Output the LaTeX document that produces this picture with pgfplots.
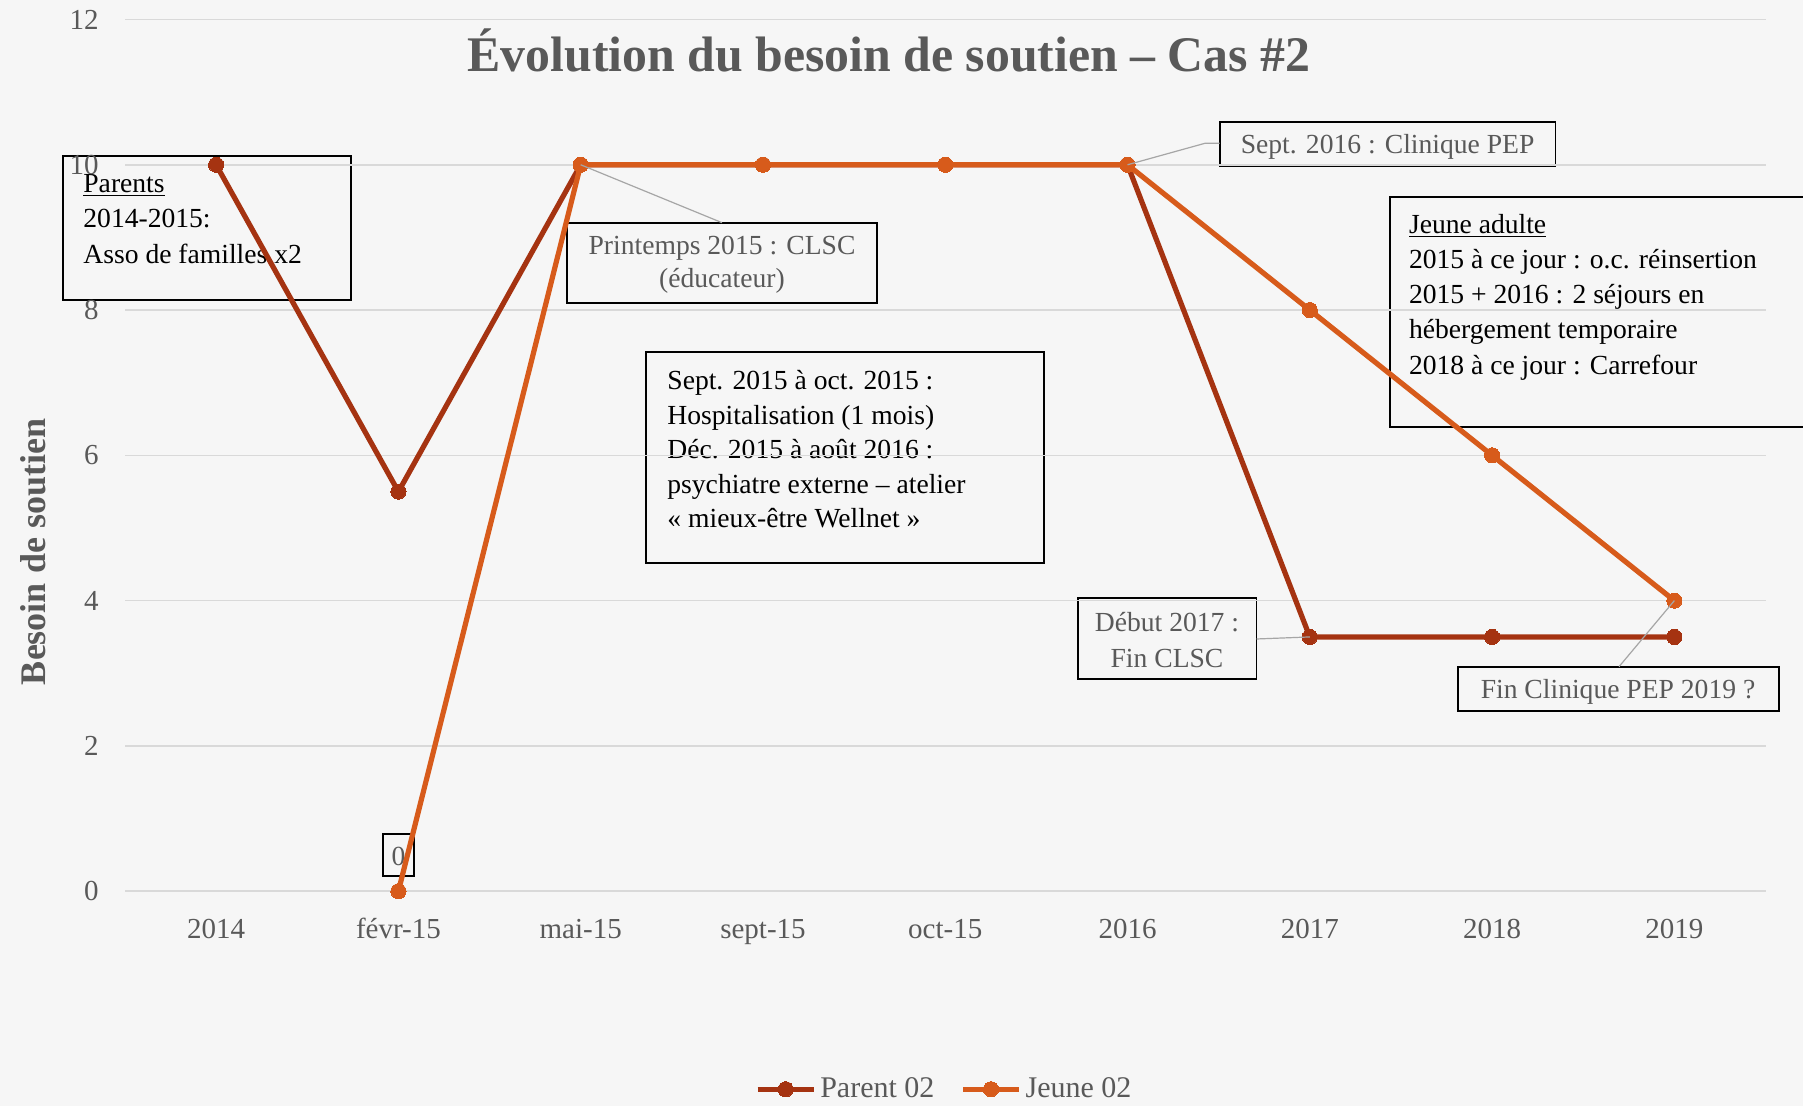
\documentclass[border=0pt]{standalone}
\usepackage{pgfplots}
\pgfplotsset{compat=1.18}
\usepackage{fontspec}
\setmainfont{Liberation Serif}
\definecolor{parentc}{HTML}{A53311}
\definecolor{jeunec}{HTML}{D75B1B}
\definecolor{txtgray}{HTML}{595959}
\definecolor{gridc}{HTML}{D9D9D9}
\definecolor{bgc}{HTML}{F6F6F6}
\definecolor{leadc}{HTML}{A6A6A6}
\newcommand{\annfont}{\fontsize{13.8}{17.4}\selectfont}
\begin{document}
\begin{tikzpicture}
\fill[bgc] (0,0) rectangle (901.5pt,553pt);
\begin{scope}[x=0.5pt,y=-0.5pt,shift={(0pt,553pt)}]
  % title
  \node[anchor=base, inner sep=0, text=txtgray, font=\bfseries\fontsize{24.9}{29}\selectfont] at (889,71.7) {Évolution du besoin de soutien – Cas \#2};
  % y label
  \node[rotate=90, anchor=center, inner sep=0, text=txtgray, font=\bfseries\fontsize{18}{21}\selectfont] at (33.5,552) {Besoin de soutien};
  % Parents box
  \draw[black, line width=0.9pt] (63,156) rectangle (351,300);
  \node[anchor=base west, inner sep=0, font=\annfont] at (83,192.7) {\underline{Parents}};
  \node[anchor=base west, inner sep=0, font=\annfont] at (83,227.7) {2014-2015:};
  \node[anchor=base west, inner sep=0, font=\annfont] at (83,263.3) {Asso de familles x2};
  % Printemps box
  \draw[black, line width=0.9pt] (567,222.7) rectangle (876.6,302.7);
  \node[anchor=base, inner sep=0, text=txtgray, font=\annfont] at (722,255) {Printemps 2015 : CLSC};
  \node[anchor=base, inner sep=0, text=txtgray, font=\annfont] at (722,288) {(éducateur)};
  % Sept 2015 box
  \draw[black, line width=0.9pt] (645.7,352.3) rectangle (1044,563);
  \node[anchor=base west, inner sep=0, font=\annfont] at (667,390) {Sept. 2015 à oct. 2015 :};
  \node[anchor=base west, inner sep=0, font=\annfont] at (667,424.5) {Hospitalisation (1 mois)};
  \node[anchor=base west, inner sep=0, font=\annfont] at (667,459) {Déc. 2015 à août 2016 :};
  \node[anchor=base west, inner sep=0, font=\annfont] at (667,493.5) {psychiatre externe – atelier};
  \node[anchor=base west, inner sep=0, font=\annfont] at (667,528) {« mieux-être Wellnet »};
  % Sept 2016 box
  \draw[black, line width=0.9pt] (1219.7,121.7) rectangle (1555.5,166);
  \node[anchor=base, inner sep=0, text=txtgray, font=\annfont] at (1387.6,153.3) {Sept. 2016 : Clinique PEP};
  % Jeune adulte box
  \draw[black, line width=0.9pt] (1389.6,197.3) rectangle (1830,427.3);
  \node[anchor=base west, inner sep=0, font=\annfont] at (1408.6,233.3) {\underline{Jeune adulte}};
  \node[anchor=base west, inner sep=0, font=\annfont] at (1408.6,268.5) {2015 à ce jour : o.c. réinsertion};
  \node[anchor=base west, inner sep=0, font=\annfont] at (1408.6,303.7) {2015 + 2016 : 2 séjours en};
  \node[anchor=base west, inner sep=0, font=\annfont] at (1408.6,338.9) {hébergement temporaire};
  \node[anchor=base west, inner sep=0, font=\annfont] at (1408.6,374.1) {2018 à ce jour : Carrefour};
  % Debut 2017 box
  \draw[black, line width=0.9pt] (1078,598.3) rectangle (1256.5,679);
  \node[anchor=base, inner sep=0, text=txtgray, font=\annfont] at (1167,631.7) {Début 2017 :};
  \node[anchor=base, inner sep=0, text=txtgray, font=\annfont] at (1167,667.3) {Fin CLSC};
  % Fin clinique box
  \draw[black, line width=0.9pt] (1458,666.7) rectangle (1778.6,710.7);
  \node[anchor=base, inner sep=0, text=txtgray, font=\annfont] at (1618,698.3) {Fin Clinique PEP 2019 ?};
  % data label 0
  \draw[black, line width=0.9pt] (383,834) rectangle (414,876);
  \node[anchor=base, inner sep=0, text=txtgray, font=\annfont] at (398.5,866) {0};
\end{scope}
\begin{axis}[
  at={(62.5pt,107.4pt)}, anchor=south west, scale only axis,
  width=820.25pt, height=435.85pt,
  xmin=-0.5, xmax=8.5, ymin=0, ymax=12,
  xtick={0,...,8},
  xticklabels={2014,févr-15,mai-15,sept-15,oct-15,2016,2017,2018,2019},
  ytick={0,2,...,12},
  ymajorgrids, grid style={gridc, line width=0.75pt},
  axis line style={draw=none}, major tick length=0pt,
  tick label style={font=\fontsize{14.5}{17}\selectfont, text=txtgray},
  /pgf/number format/assume math mode=true,
  xticklabel style={anchor=base, inner sep=0pt, yshift=-23.5pt},
  yticklabel style={anchor=east, inner sep=0pt, xshift=-13pt},
  legend style={at={(0.5,-0.2272)}, anchor=center, draw=none, fill=none,
    font=\fontsize{15}{18}\selectfont, text=txtgray, legend columns=2,
    /tikz/every even column/.append style={column sep=11pt}},
  legend image code/.code={\draw[mark repeat=2,mark phase=2,#1] plot coordinates {(0pt,0pt) (14pt,0pt) (28pt,0pt)};},
  clip=false,
]
\addplot[parentc, line width=2.6pt, mark=*, mark size=3.8pt, mark options={solid, fill=parentc, draw=parentc, line width=0pt}]
  coordinates {(0,10) (1,5.5) (2,10) (3,10) (4,10) (5,10) (6,3.5) (7,3.5) (8,3.5)};
\addlegendentry{Parent 02}
\addplot[jeunec, line width=2.6pt, mark=*, mark size=3.8pt, mark options={solid, fill=jeunec, draw=jeunec, line width=0pt}]
  coordinates {(1,0) (2,10) (3,10) (4,10) (5,10) (6,8) (7,6) (8,4)};
\addlegendentry{Jeune 02}
\coordinate (pA) at (axis cs:2,10);
\coordinate (pB) at (axis cs:5,10);
\coordinate (pC) at (axis cs:6,3.5);
\coordinate (pD) at (axis cs:8,4);
\end{axis}
\begin{scope}[x=0.5pt,y=-0.5pt,shift={(0pt,553pt)}]
  \draw[leadc, line width=0.6pt] (pA) -- (722,222.7);
  \draw[leadc, line width=0.6pt] (pB) -- (1205,143.3) -- (1219.7,143.3);
  \draw[leadc, line width=0.6pt] (1256.5,639) -- (pC);
  \draw[leadc, line width=0.6pt] (1619,666.7) -- (pD);
\end{scope}
\pgfresetboundingbox
\path[use as bounding box] (0,0) rectangle (901.5pt,553pt);
\end{tikzpicture}
\end{document}
